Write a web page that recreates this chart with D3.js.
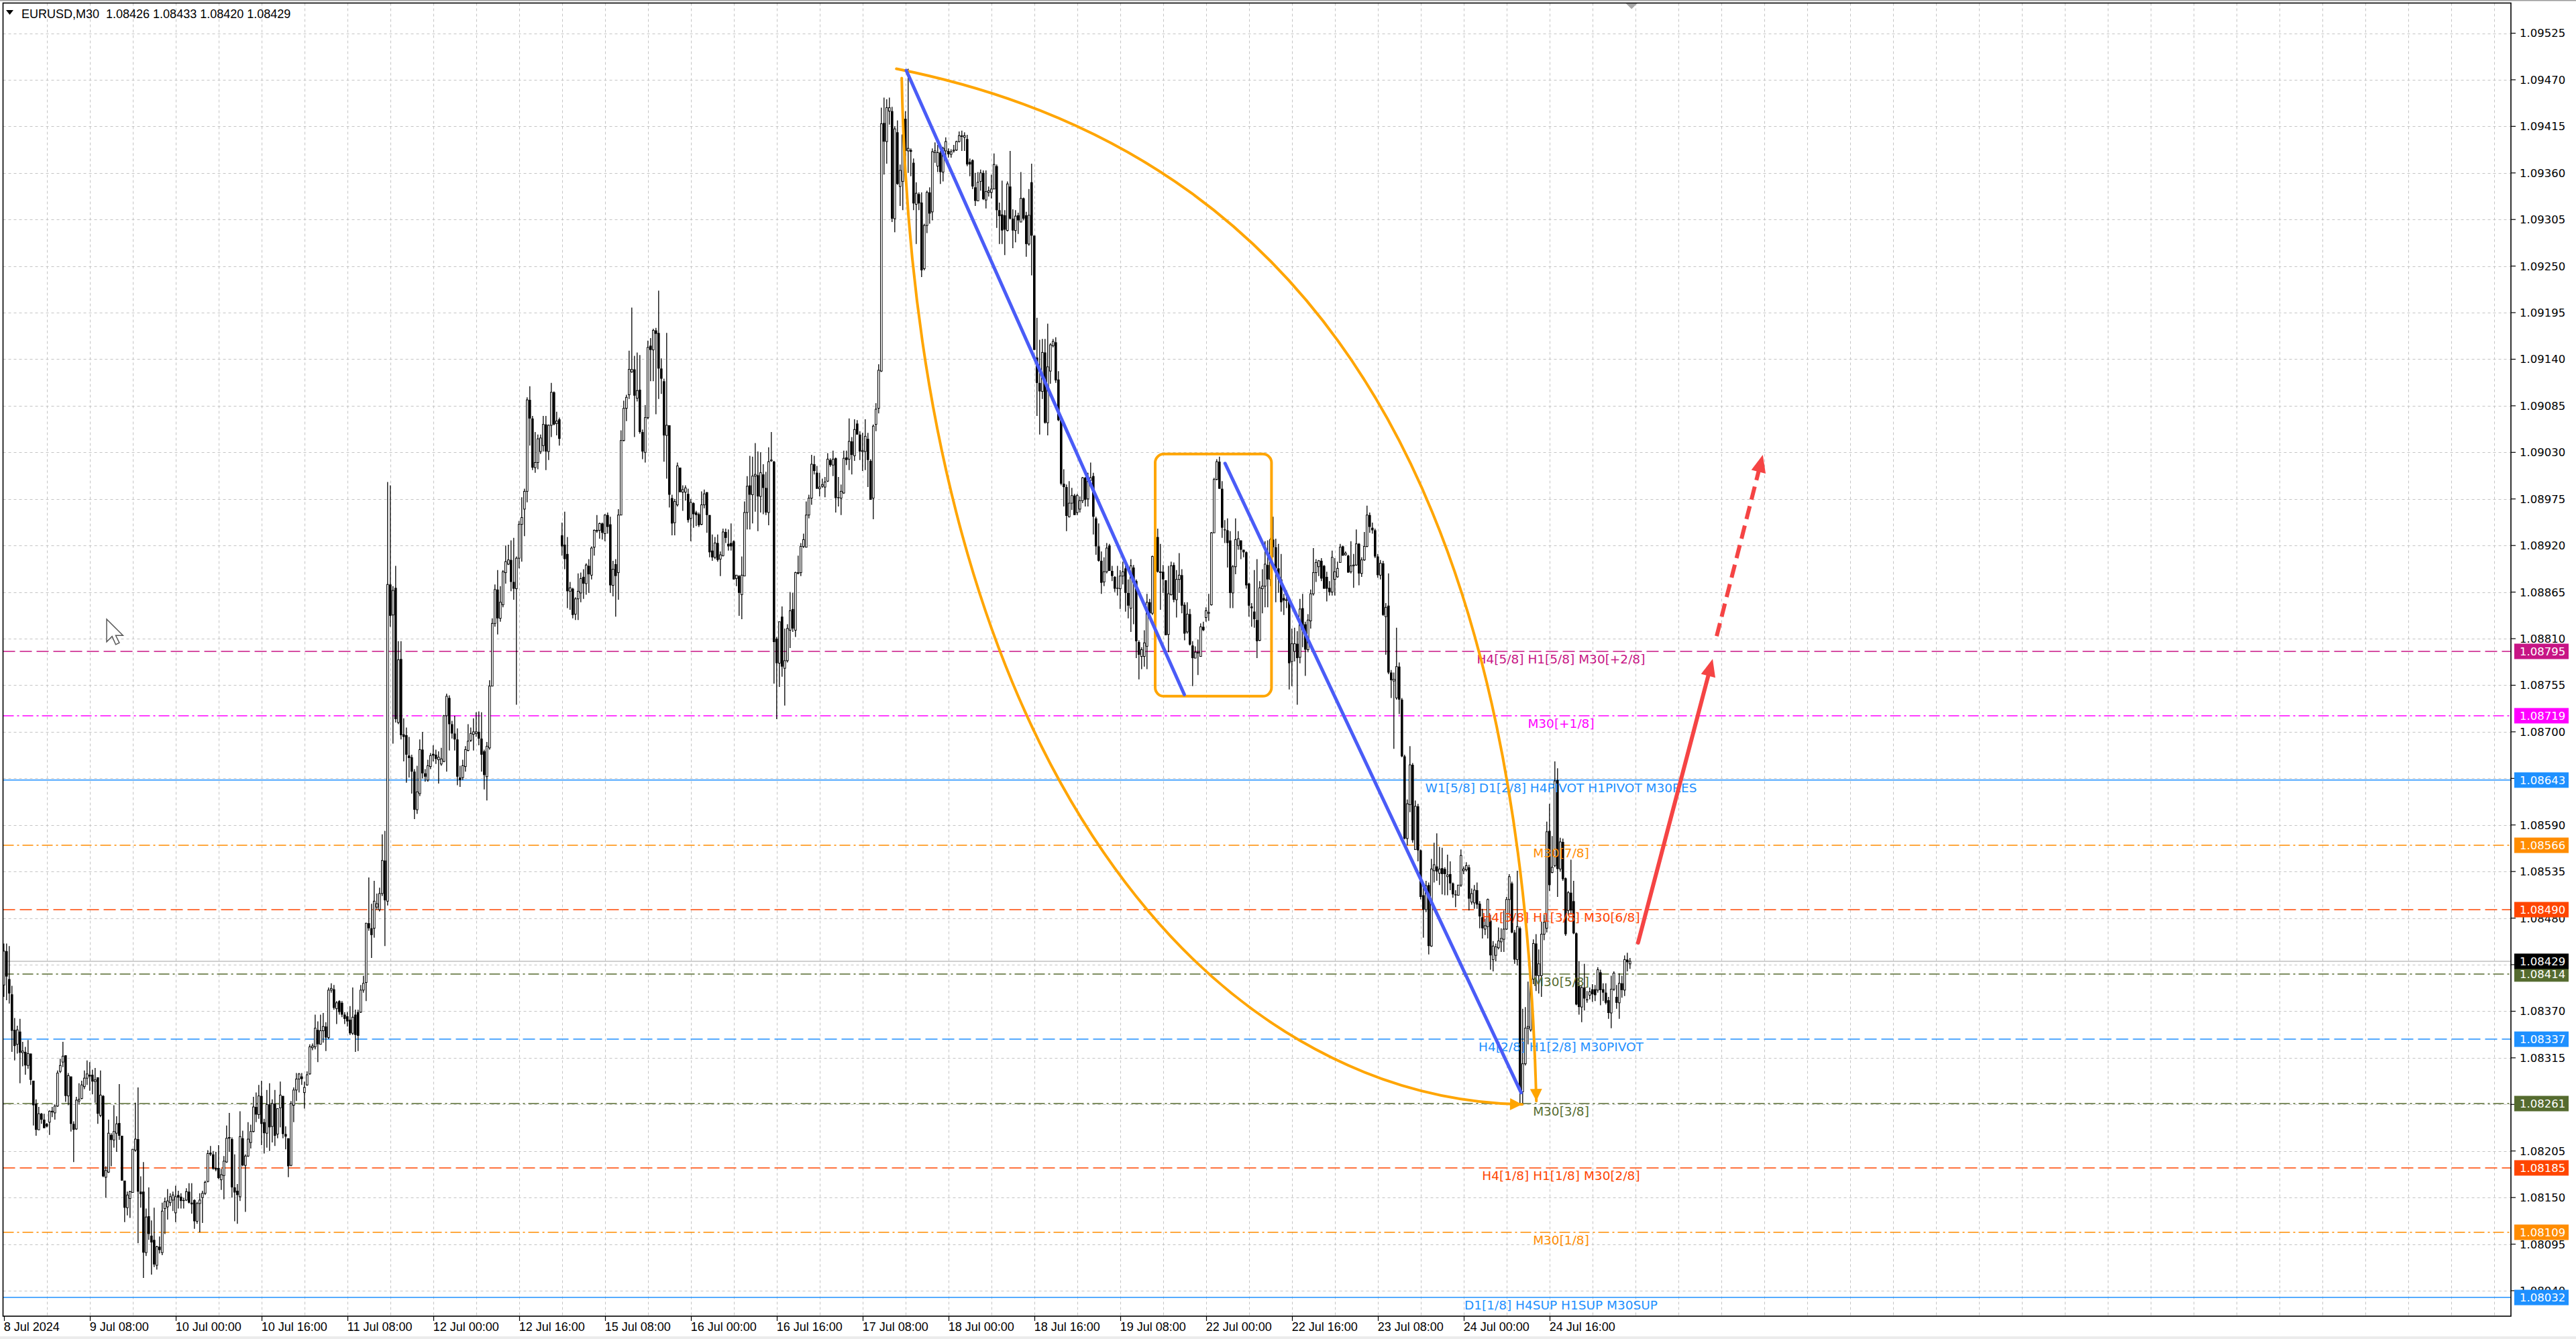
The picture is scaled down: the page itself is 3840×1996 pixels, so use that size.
<!DOCTYPE html>
<html><head><meta charset="utf-8">
<script src="https://cdn.jsdelivr.net/npm/d3@7"></script>
<style>html,body{margin:0;padding:0;background:#fff;}svg{display:block;}</style>
</head><body>
<svg id="c" width="3840" height="1996"></svg>
<script>
// ===== DATA (prices in 1e-5 above 1.08000, M30 bars from 8 Jul 2024 16:00) =====
const symbol = "EURUSD,M30";
const O = [
401,441,408,390,348,331,346,321,322,306, 320,288,261,230,249,242,237,239,251,250,
258,299,310,318,270,293,237,231,264,267, 281,291,295,295,287,292,247,270,174,180,
224,218,226,238,223,170,138,149,156,206, 219,157,157,85,128,105,100,70,92,85,
137,139,144,147,132,153,151,147,147,157, 144,147,122,143,150,155,169,203,201,185,
185,171,176,192,220,219,162,158,151,220, 188,199,215,228,257,248,270,239,226,260,
234,261,
225,256,270,225,220,188,259,277,290,293, 274,283,296,327,328,348,331,347,352,339,
395,396,373,382,380,366,364,360,344,366, 369,369,395,404,474,468,468,493,490,509,
548,500,874,838,870,711,786,697,696,672, 670,653,608,627,679,651,643,659,674,673,
667,662,665,719,740,709,698,691,646,646, 659,678,690,697,698,700,692,677,647,681,
754,828,868,834,850,888,898,903,877,869, 905,945,963,984,1092,1070,1012,1018,1031,1038,
1063,
1031,1062,1101,1064,1069,932,921,910,866,869, 839,857,864,883,875,896,885,918,937,938,
946,934,956,945,873,898,888,956,1044,1082, 1098,1125,1128,1094,1104,1054,1030,1071,1156,1151,
1174,1171,1129,1114,1050,1062,976,947,968,1012, 983,983,981,952,970,959,957,945,968,983,
956,914,906,923,904,908,936,922,923,925, 881,884,862,884,959,991,980,1002,1003,978,
1004,988,959,1020,1019,810,781,836,775,784, 820,845,820,887,888,919,918,956,976,1016,1006,
987,990,989,996,1021,1015,1023,977,976,982, 1024,1022,1043,1026,1064,1051,1031,1031,1046,1020,
976,1063,1082,1126,1419,1397,1433,1433,1306,1408, 1344,1350,1424,1386,1387,1372,1323,1335,1325,1247,
1298,1337,1314,1384,1368,1384,1361,1386,1386,1382, 1386,1387,1397,1403,1402,1400,1373,1375,1343,1327,
1350,1360,1328,1337,1337,1341,1368,1316,1311,1310, 1292,1344,1306,1292,1310,1302,1330,1310,1276,1349,
1286,1142,1112,1102,1148,1065,1126,1156,1160,1116, 1068,993,989,954,970,979,959,963,973,1000,
975,997,1002,
952,919,902,877,889,920,890,883,870,869, 884,893,864,846,894,878,806,789,789,801,
853,840,907,930,889,889,879,815,862,897, 856,880,885,850,818,839,802,787,793,789,
824,835,840,850,935,998,1019,987,939,938, 926,864,895,920,926,915,912,875,848,842,
832,808,869,872,897,880,927,918,893,880, 858,855,856,783,795,804,788,846,827,797,
831,863,888,895,902,896,883,870,865,880, 883,900,919,909,908,889,896,897,922,887,903,919,
956,941,938,907,885,899,836,849,770,760, 740,777,738,671,574,614,661,561,612,560,
507,490,519,447,536,541,533,539,538,529, 532,521,508,507,519,536,537,540,499,498,
513,497,481,467,470,477,431,436,445,452, 455,467,502,521,463,431,468,275,308,350,
348,408,450,412,412,461,468,583,534,542, 643,538,570,527,489,510,500,462,400,375,
398,384,389,396,396,395,416,396,392,383, 368,396,387,380,403,395,431,426
];
const H = [
450,450,447,400,362,353,361,334,328,336, 320,288,266,257,250,249,238,253,257,260,
300,314,334,318,297,293,240,269,285,288, 300,312,310,301,303,292,300,271,187,242,
226,259,246,284,223,170,157,158,207,262, 280,175,192,137,162,123,138,93,104,144,
150,160,155,157,164,158,155,150,161,167, 167,148,145,155,158,170,206,211,205,204,
212,184,199,235,250,221,201,166,252,229, 201,239,236,269,274,283,288,243,277,285,
266,277,
255,287,270,234,220,264,280,297,297,297, 287,299,331,332,366,358,366,368,357,398,
403,401,382,383,382,369,369,376,398,372, 372,401,412,474,528,497,524,509,516,579,
583,995,991,872,896,807,807,716,705,694, 673,656,660,691,700,656,667,675,684,679,
677,681,720,745,743,713,719,704,660,667, 683,709,705,716,723,724,723,679,688,761,
834,874,891,872,891,920,921,926,929,907, 949,977,987,1095,1108,1073,1054,1051,1051,1073,
1073,
1063,1112,1102,1078,1071,947,960,930,877,870, 859,887,888,892,899,904,919,939,956,947,
947,957,959,954,902,904,963,1056,1091,1098, 1150,1201,1144,1148,1145,1057,1086,1162,1165,1176,
1177,1221,1141,1117,1171,1062,980,975,1018,1012, 991,991,987,975,971,961,959,984,986,983,
956,933,930,933,913,940,940,939,946,926, 885,885,907,972,1002,1026,1025,1041,1031,1030,
1016,1007,1036,1054,1020,812,830,848,822,827, 865,864,889,908,923,934,972,980,1027,1026,1014,
1006,999,1001,1029,1023,1032,1024,1001,992,1032, 1032,1070,1048,1069,1068,1055,1053,1069,1053,1022,
1063,1088,1134,1437,1449,1447,1449,1438,1415,1422, 1370,1420,1433,1483,1389,1377,1349,1337,1337,1300,
1339,1343,1389,1396,1393,1386,1391,1402,1389,1388, 1393,1398,1409,1410,1408,1405,1377,1376,1360,1361,
1364,1363,1363,1344,1358,1383,1370,1325,1351,1316, 1350,1386,1317,1316,1313,1361,1331,1314,1341,1371,
1286,1189,1163,1164,1164,1182,1159,1164,1166,1126, 1069,1010,992,996,988,981,981,978,1001,1001,
1006,1018,1006,
954,946,913,906,923,922,896,884,896,891, 901,898,880,904,897,880,808,800,820,863,
857,908,941,940,922,897,879,896,901,900, 891,911,892,853,853,845,807,801,809,828,
830,847,863,936,1000,1022,1025,996,950,952, 937,897,952,937,926,915,913,876,852,891,
904,878,892,925,926,929,954,928,922,910, 863,867,857,822,823,819,857,863,830,839,
868,917,904,903,905,897,889,878,914,905, 901,922,920,913,909,925,910,939,923,906,936,967,
959,947,940,910,903,902,852,887,773,770, 823,782,740,673,620,683,663,619,615,561,
519,524,522,550,569,580,564,563,540,555, 547,522,513,519,561,541,546,543,515,519,
522,500,491,479,503,484,453,450,469,468, 489,505,532,523,466,536,470,373,375,405,
408,455,461,443,476,484,594,615,577,665, 657,575,574,528,512,549,524,463,429,400,
426,394,398,402,401,422,419,403,403,387, 412,417,401,415,412,436,439,433
];
const L = [
387,383,379,322,312,320,285,305,295,302, 283,235,223,230,237,232,233,224,245,242,
257,297,304,263,259,228,192,230,260,266, 278,283,276,272,262,237,245,174,150,179,
187,209,204,218,170,121,129,126,156,204, 96,138,55,81,100,59,68,65,84,82,
107,124,140,134,121,137,137,137,146,143, 131,113,119,109,120,153,168,199,183,181,
172,159,148,191,204,150,122,119,146,187, 133,198,208,227,239,243,212,202,209,205,
215,211,
220,233,220,207,174,187,239,264,274,283, 255,282,295,324,325,310,331,333,323,337,
392,372,355,366,363,355,352,342,342,322, 323,368,392,382,465,433,457,490,488,506,
447,495,824,686,711,709,691,665,640,646, 627,597,603,624,645,641,641,656,665,662,
639,660,664,653,678,692,678,637,635,643, 653,677,688,678,694,684,653,632,619,679,
754,824,815,830,847,875,897,866,856,732, 893,901,931,971,1038,1009,1006,1010,1028,1031,
1009,
1021,1048,1062,1050,1038,908,892,846,844,834, 832,832,853,857,862,864,880,908,935,928,
927,925,934,864,860,836,856,956,1043,1067, 1093,1124,1048,1090,1052,1022,1018,1069,1114,1114,
1075,1093,1099,1019,999,965,932,932,966,983, 961,973,947,925,941,943,942,944,964,935,
906,902,904,901,884,907,923,914,914,880, 872,837,833,884,939,939,946,960,937,959,
957,956,944,1019,757,715,753,765,731,782, 799,818,812,886,884,917,918,952,968,1004,987,
978,988,977,995,1013,1002,959,966,956,981, 1015,1009,1004,1020,1051,1021,1008,1009,989,974,
951,1055,1076,1125,1358,1371,1417,1302,1290,1346, 1321,1316,1365,1360,1356,1316,1276,1316,1237,1245,
1289,1300,1304,1372,1361,1347,1350,1378,1378,1378, 1384,1386,1396,1386,1386,1368,1356,1341,1321,1327,
1339,1328,1318,1332,1330,1341,1295,1276,1276,1263, 1291,1305,1271,1278,1288,1302,1304,1261,1274,1239,
1151,1073,1051,1093,1064,1050,1111,1154,1112,1067, 991,966,937,953,962,956,956,959,970,966,
966,996,933,
909,901,863,872,887,890,878,865,861,845, 874,842,834,818,827,787,762,774,777,774,
838,838,900,888,844,864,814,794,861,853, 835,864,840,808,816,802,754,787,767,789,
819,830,831,849,935,997,987,929,923,894, 846,846,886,915,904,906,869,836,824,823,
787,807,840,847,847,872,906,853,864,842, 838,846,750,754,783,732,781,800,766,794,
822,861,877,884,878,869,854,861,861,861, 882,900,908,908,888,887,870,896,873,883,902,918,
935,934,905,882,880,837,791,768,740,680, 738,721,670,573,566,605,569,561,547,502,
457,487,437,446,522,524,519,508,507,507, 513,504,493,507,517,532,535,489,496,491,
491,468,456,460,456,419,417,429,443,440, 440,466,484,462,426,424,259,259,306,331,
346,402,394,391,387,454,463,512,533,540, 505,535,524,459,484,484,461,377,366,357,
371,380,384,381,382,392,377,382,378,361, 350,394,373,361,386,388,417,420
];
const C = [
441,411,391,347,329,348,321,323,306,320, 289,259,230,249,242,232,234,252,252,258,
297,306,317,270,294,237,230,265,266,283, 291,296,293,287,289,249,271,175,182,226,
218,228,237,223,170,138,153,157,207,219, 157,154,85,127,107,97,71,92,88,134,
145,146,151,153,151,150,146,146,157,144, 142,122,143,147,155,168,202,201,184,183,
173,177,193,220,221,162,156,153,222,188, 199,219,228,257,248,270,237,226,260,233,
261,223,
255,271,225,222,187,261,277,290,296,290, 280,295,328,329,350,331,347,352,339,395,
397,374,380,369,366,361,358,344,363,342, 341,395,403,474,468,460,500,497,509,548,
501,874,837,867,715,785,696,694,673,669, 653,608,629,679,651,647,660,672,672,668,
670,668,719,742,709,698,691,647,643,660, 679,689,698,700,700,692,673,649,683,754,
828,868,834,853,889,901,903,877,869,905, 945,953,984,1092,1070,1012,1018,1046,1047,1063,
1031,
1062,1101,1063,1067,1046,919,904,866,870,838, 857,866,881,875,897,886,917,938,938,946,
935,956,942,873,892,884,956,1044,1082,1095, 1128,1128,1097,1103,1054,1031,1071,1154,1151,1174,
1170,1129,1117,1050,1062,980,946,972,1014,983, 986,988,950,971,957,956,944,968,981,956,
912,906,923,903,909,936,929,919,919,880, 885,864,885,959,990,980,1002,1004,978,1006,
988,959,1019,1021,806,781,830,777,784,822, 843,822,888,888,919,927,956,976,1016,1008,987,
989,992,995,1022,1015,1022,976,976,984,1023, 1021,1043,1027,1057,1051,1031,1032,1049,1021,974,
1061,1081,1127,1418,1397,1437,1437,1306,1412,1347, 1363,1405,1386,1389,1385,1324,1336,1324,1245,1298,
1337,1312,1385,1386,1384,1361,1389,1397,1382,1385, 1387,1397,1404,1404,1404,1370,1370,1344,1327,1349,
1360,1329,1338,1339,1341,1370,1316,1309,1292,1293, 1347,1306,1292,1309,1304,1330,1306,1276,1310,1286,
1151,1112,1102,1148,1065,1131,1157,1161,1115,1068, 993,989,955,970,979,956,979,973,1000,974,
996,1000,954,
919,902,876,889,917,890,884,869,869,884, 889,864,849,896,877,807,791,797,805,853,
840,907,930,889,889,880,814,863,896,856, 880,885,849,816,839,803,787,794,794,824,
820,843,841,935,998,1019,987,941,938,923, 864,895,927,928,915,912,873,849,846,833,
807,870,872,898,880,927,918,893,880,853, 855,856,781,804,804,787,845,823,797,832,
863,888,900,902,881,869,869,865,906,889, 893,918,908,911,888,896,897,922,887,903,919,956,
942,938,907,885,899,838,847,770,761,762, 777,738,671,574,615,661,572,612,560,505,
490,518,447,538,543,535,538,532,532,531, 521,508,507,519,554,538,542,503,509,513,
496,482,468,471,502,436,447,446,453,456, 467,502,529,463,431,470,275,308,350,352,
408,450,412,426,461,475,582,519,540,642, 538,570,526,461,510,489,462,378,375,398,
385,383,393,390,389,419,395,392,380,368, 396,415,380,403,395,431,428,429
];

const priceTicks = [1.08040,1.08095,1.08150,1.08205,1.08260,1.08315,1.08370,1.08425,1.08480,1.08535,
  1.08590,1.08645,1.08700,1.08755,1.08810,1.08865,1.08920,1.08975,1.09030,1.09085,
  1.09140,1.09195,1.09250,1.09305,1.09360,1.09415,1.09470,1.09525];
const timeTickBars = [0,32,64,96,128,160,192,224,256,288,320,352,384,416,448,480,512,544,576];
const timeTickLabels = ["8 Jul 2024","9 Jul 08:00","10 Jul 00:00","10 Jul 16:00","11 Jul 08:00",
  "12 Jul 00:00","12 Jul 16:00","15 Jul 08:00","16 Jul 00:00","16 Jul 16:00","17 Jul 08:00",
  "18 Jul 00:00","18 Jul 16:00","19 Jul 08:00","22 Jul 00:00","22 Jul 16:00","23 Jul 08:00",
  "24 Jul 00:00","24 Jul 16:00"];

const levelPrices = [1.08795,1.08719,1.08643,1.08566,1.08490,1.08414,1.08337,1.08261,1.08185,1.08109,1.08032];
const levelLabels = ["H4[5/8] H1[5/8] M30[+2/8]","M30[+1/8]","W1[5/8] D1[2/8] H4PIVOT H1PIVOT M30RES",
  "M30[7/8]","H4[3/8] H1[3/8] M30[6/8]","M30[5/8]","H4[2/8] H1[2/8] M30PIVOT","M30[3/8]",
  "H4[1/8] H1[1/8] M30[2/8]","M30[1/8]","D1[1/8] H4SUP H1SUP M30SUP"];

// annotation anchor points in (bar index, price)
const blueLegs = [[[336.3,1.09481],[439.9,1.08744]], [[455.1,1.09017],[565.4,1.08274]]];
const boxCorners = [[429.05,1.09028],[472.4,1.08742]];
// cubic curves: start, control 1, control 2, end
const arcUpper = [[332.6,1.09483],[507.55,1.09373],[566.05,1.08898],[571.1,1.08264]];
const arcLower = [[334.6,1.09472],[339.8,1.08641],[453.3,1.08267],[565.8,1.08260]];
const redSolid = [[609.0,1.08451],[636.8,1.08786]];
const redDashed = [[638.3,1.08813],[655.5,1.09027]];
const levelLabelBar = 580.3;
const cursorAt = [38.3,1.08833];
const shiftMarkBar = 606.6;

// ===== STYLES =====
const levelColors = ["#C71585","#FF00FF","#1E90FF","#FF8C00","#FF4500","#556B2F","#1E90FF","#556B2F","#FF4500","#FF8C00","#1E90FF"];
const levelDash = ["18,7","16,5,3,5",null,"16,5,3,5","18,7","16,5,3,5","18,7","16,5,3,5","18,7","16,5,3,5",null];

// ===== RENDER =====
const W = 3840, HT = 1996;
const plot = {left:4.5, top:4.5, right:3743, bottom:1962};
const n = C.length;
const x = d3.scaleLinear().domain([0, 606]).range([5.8, 2429.8]);
const y = d3.scaleLinear().domain([1.08040, 1.09525]).range([1924, 49.5]);
const P = v => 1.08 + v/1e5;
const fmt = d3.format(".5f");

const svg = d3.select("#c");
svg.append("rect").attr("width", W).attr("height", HT).attr("fill", "#fff");
svg.append("rect").attr("x",0).attr("y",0).attr("width",W).attr("height",1.5).attr("fill","#9a9a9a");
svg.append("rect").attr("x",0).attr("y",1992).attr("width",W).attr("height",4).attr("fill","#ececec");

svg.append("clipPath").attr("id","clip").append("rect")
  .attr("x",plot.left).attr("y",plot.top).attr("width",plot.right-plot.left).attr("height",plot.bottom-plot.top);
const g = svg.append("g").attr("clip-path","url(#clip)");

// grid
const gridG = g.append("g").attr("stroke","#c4c4c4").attr("stroke-width",1).attr("stroke-dasharray","4,4");
priceTicks.forEach(p => {
  const yy = Math.round(y(p)) + 0.5;
  gridG.append("line").attr("x1",plot.left).attr("x2",plot.right).attr("y1",yy).attr("y2",yy);
});
for (let b = 16; x(b) < plot.right; b += 16) {
  const xx = Math.round(x(b)) + 0.5;
  gridG.append("line").attr("x1",xx).attr("x2",xx).attr("y1",plot.top).attr("y2",plot.bottom);
}

// level lines
levelPrices.forEach((p,i) => {
  const ln = g.append("line").attr("x1",plot.left).attr("x2",plot.right)
    .attr("y1",y(p)).attr("y2",y(p)).attr("stroke",levelColors[i]).attr("stroke-width",1.5);
  if (levelDash[i]) ln.attr("stroke-dasharray",levelDash[i]);
});
// current price line
const last = n - 1;
g.append("line").attr("x1",plot.left).attr("x2",plot.right)
  .attr("y1",y(P(C[last]))).attr("y2",y(P(C[last]))).attr("stroke","#c0c0c0").attr("stroke-width",1.6);

// candles
const cg = g.append("g");
for (let i = 0; i < n; i++) {
  const o = P(O[i]), c = P(C[i]);
  const h = Math.max(P(H[i]), o, c), l = Math.min(P(L[i]), o, c);
  const xc = x(i);
  cg.append("line").attr("x1",xc).attr("x2",xc).attr("y1",y(h)).attr("y2",y(l))
    .attr("stroke","#000").attr("stroke-width",1.3);
  const top = y(Math.max(o,c)), bot = y(Math.min(o,c));
  const hh = Math.max(1.2, bot - top);
  if (c >= o) {
    cg.append("rect").attr("x",xc-1.3).attr("y",top).attr("width",2.6).attr("height",hh)
      .attr("fill","#fff").attr("stroke","#000").attr("stroke-width",1);
  } else {
    cg.append("rect").attr("x",xc-1.8).attr("y",top).attr("width",3.6).attr("height",hh).attr("fill","#000");
  }
}

// level labels
levelPrices.forEach((p,i) => {
  g.append("text").attr("x",x(levelLabelBar)).attr("y",y(p)+18)
    .attr("text-anchor","middle").attr("font-family","'DejaVu Sans', Verdana, sans-serif")
    .attr("font-size",18.5).attr("fill",levelColors[i]).text(levelLabels[i]);
});

// annotations
const pt = d => [x(d[0]), y(d[1])];
function arrowHead(parent, from, to, len, half, color) {
  const dx = to[0]-from[0], dy = to[1]-from[1], d = Math.hypot(dx,dy);
  const ux = dx/d, uy = dy/d;
  const bx = to[0]-ux*len, by = to[1]-uy*len;
  parent.append("path").attr("d",`M${to[0]},${to[1]}L${bx-uy*half},${by+ux*half}L${bx+uy*half},${by-ux*half}Z`)
    .attr("fill",color);
}
const ORANGE = "#FFA500";
[arcUpper, arcLower].forEach(arc => {
  const [p0,p1,p2,p3] = arc.map(pt);
  const path = d3.path();
  path.moveTo(p0[0],p0[1]);
  path.bezierCurveTo(p1[0],p1[1],p2[0],p2[1],p3[0],p3[1]);
  g.append("path").attr("d", path.toString()).attr("fill","none").attr("stroke",ORANGE)
    .attr("stroke-width",4).attr("stroke-linecap","round");
  arrowHead(g, p2, p3, 18, 9, ORANGE);
});
const b0 = pt(boxCorners[0]), b1 = pt(boxCorners[1]);
g.append("rect").attr("x",b0[0]).attr("y",b0[1]).attr("width",b1[0]-b0[0]).attr("height",b1[1]-b0[1])
  .attr("rx",13).attr("ry",13).attr("fill","none").attr("stroke",ORANGE).attr("stroke-width",4);
blueLegs.forEach(seg => {
  const a = pt(seg[0]), b = pt(seg[1]);
  g.append("line").attr("x1",a[0]).attr("y1",a[1]).attr("x2",b[0]).attr("y2",b[1])
    .attr("stroke","#4a5cf7").attr("stroke-width",5).attr("stroke-linecap","round");
});
const RED = "#f54444";
[[redSolid,null],[redDashed,"20,10"]].forEach(([seg,dash]) => {
  const a = pt(seg[0]), b = pt(seg[1]);
  const dx=b[0]-a[0], dy=b[1]-a[1], d=Math.hypot(dx,dy);
  const e = [b[0]-dx/d*20, b[1]-dy/d*20];
  const ln = g.append("line").attr("x1",a[0]).attr("y1",a[1]).attr("x2",e[0]).attr("y2",e[1])
    .attr("stroke",RED).attr("stroke-width",6).attr("stroke-linecap","round");
  if (dash) ln.attr("stroke-dasharray",dash).attr("stroke-linecap","butt");
  arrowHead(g, a, b, 26, 11, RED);
});
// mouse cursor
const cp = pt(cursorAt);
g.append("path").attr("transform",`translate(${cp[0]},${cp[1]}) scale(1.35)`)
  .attr("d","M0,0L0,25L6,19L10,28L14,26L10,18L18,18Z").attr("fill","#fff").attr("stroke","#555").attr("stroke-width",1.1);
// chart shift marker
const sx = x(shiftMarkBar);
svg.append("path").attr("d",`M${sx-9},${plot.top}L${sx+9},${plot.top}L${sx},${plot.top+9}Z`).attr("fill","#a8a8a8");

// frame
svg.append("rect").attr("x",plot.left).attr("y",plot.top).attr("width",plot.right-plot.left)
  .attr("height",plot.bottom-plot.top).attr("fill","none").attr("stroke","#000").attr("stroke-width",1.6);

// price axis (labels fully covered by a price box are not drawn, as in the reference)
const boxes = levelPrices.map((p,i)=>({p, col:levelColors[i]}));
boxes.push({p:P(C[last]), col:"#000"});
const axG = svg.append("g").attr("font-family","'DejaVu Sans', Verdana, sans-serif").attr("font-size",16.5);
priceTicks.forEach(p => {
  axG.append("line").attr("x1",plot.right).attr("x2",plot.right+7).attr("y1",y(p)).attr("y2",y(p))
    .attr("stroke","#000").attr("stroke-width",1.2);
  const covered = boxes.some(bx => Math.abs(y(bx.p) - y(p)) < 8);
  if (!covered) axG.append("text").attr("x",3756).attr("y",y(p)).attr("dy","0.36em").attr("fill","#000").text(fmt(p));
});
boxes.forEach(bx => {
  axG.append("rect").attr("x",3748).attr("y",y(bx.p)-11.5).attr("width",81).attr("height",23).attr("fill",bx.col);
  axG.append("text").attr("x",3756).attr("y",y(bx.p)).attr("dy","0.36em").attr("fill","#fff").text(fmt(bx.p));
});

// time axis
const tG = svg.append("g").attr("font-family","'Liberation Sans', Arial, sans-serif").attr("font-size",18);
timeTickBars.forEach((b,i) => {
  const xx = Math.round(x(b)) + 0.5;
  tG.append("line").attr("x1",xx).attr("x2",xx).attr("y1",plot.bottom).attr("y2",plot.bottom+7)
    .attr("stroke","#000").attr("stroke-width",1.2);
  tG.append("text").attr("x",x(b)).attr("y",1984).attr("fill","#000").text(timeTickLabels[i]);
});

// header
svg.append("path").attr("d","M9,15L20,15L14.5,22Z").attr("fill","#000");
svg.append("text").attr("x",32).attr("y",27).attr("font-family","'Liberation Sans', Arial, sans-serif")
  .attr("font-size",18).attr("fill","#000").style("white-space","pre")
  .text(`${symbol}  ${fmt(P(O[last]))} ${fmt(P(H[last]))} ${fmt(P(L[last]))} ${fmt(P(C[last]))}`);
</script>
</body></html>
